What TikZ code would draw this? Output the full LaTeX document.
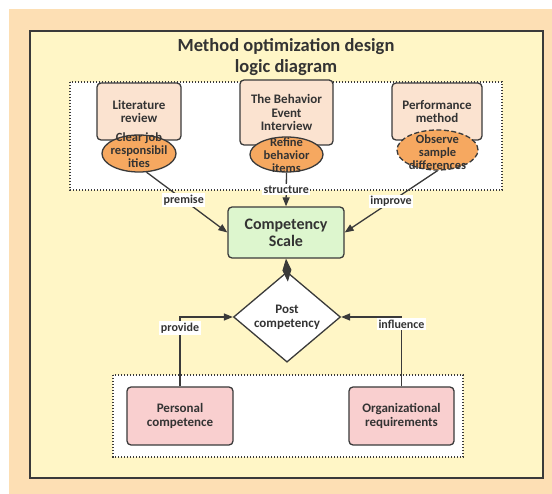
\documentclass[tikz,border=0pt]{standalone}
\usepackage{fontspec}
\setmainfont{Carlito}
\usetikzlibrary{shapes.geometric,arrows.meta}

\definecolor{pagebg}{HTML}{FDDFB4}
\definecolor{panelbg}{HTML}{FFF6C6}
\definecolor{edgecol}{HTML}{3A3A3A}
\definecolor{ink}{HTML}{333333}
\definecolor{methodfill}{HTML}{FBE3D0}
\definecolor{ovalfill}{HTML}{F6A860}
\definecolor{scalefill}{HTML}{DDF6CE}
\definecolor{basefill}{HTML}{F9CFCF}

% text of fixed-size ovals: set without enlarging the oval
\newcommand\ovtext[2]{\raisebox{#1}[0pt][0pt]{\makebox[0pt]{\begin{tabular}{@{}c@{}}#2\end{tabular}}}}

\begin{document}
\begin{tikzpicture}[x=1pt,y=-1pt,
  frame/.style={draw=edgecol,line width=1.4pt},
  group/.style={draw=edgecol,line width=1.3pt,dash pattern=on 1.4pt off 1.6pt,fill=white},
  methodbox/.style={draw=edgecol,fill=methodfill,line width=1.3pt,rounded corners=4pt,
    align=center,text=ink,font=\fontsize{13}{13.5}\selectfont\bfseries,inner sep=2pt},
  oval/.style={ellipse,draw=edgecol,fill=ovalfill,line width=1.3pt,inner sep=0pt,
    text=ink,font=\fontsize{12.5}{12.5}\selectfont\bfseries},
  scalebox/.style={draw=edgecol,fill=scalefill,line width=1.3pt,rounded corners=4pt,
    align=center,text=ink,font=\fontsize{16}{17}\selectfont\bfseries},
  postnode/.style={diamond,draw=edgecol,fill=white,line width=1.3pt,inner sep=0pt,
    align=center,text=ink,font=\fontsize{13}{14}\selectfont\bfseries},
  basebox/.style={draw=edgecol,fill=basefill,line width=1.3pt,rounded corners=4pt,
    align=center,text=ink,font=\fontsize{13}{14}\selectfont\bfseries},
  conn/.style={draw=edgecol,line width=1.3pt,-{Triangle[length=9pt,width=7pt]}},
  lbl/.style={fill=white,inner sep=1.5pt,text=ink,font=\fontsize{12}{13}\selectfont\bfseries}]

\useasboundingbox (0,0) rectangle (552,494);

% background and panel
\fill[pagebg] (9,9) rectangle (552,494);
\draw[frame,fill=panelbg] (30,31) rectangle (543,478);

\node[text=ink,align=center,font=\fontsize{18.5}{21}\selectfont\bfseries] (title) at (286,57)
  {Method optimization design\\logic diagram};

% dotted groups
\draw[group] (70,82) rectangle (502,190);
\draw[group] (113,375) rectangle (463,457);

% method boxes
\node[methodbox,minimum width=84pt,minimum height=57pt] (lit) at (139,111.5) {Literature\\review};
\node[methodbox,minimum width=93pt,minimum height=65pt] (bei) at (286.5,112.5) {The Behavior\\Event\\Interview};
\node[methodbox,minimum width=90pt,minimum height=57pt] (perf) at (437,111.5) {Performance\\method};

% ovals
\node[oval,minimum width=74pt,minimum height=37pt] (clear) at (139,153.5)
  {\ovtext{-1.5pt}{Clear job\\responsibil\\ities}};
\node[oval,minimum width=73pt,minimum height=35pt] (refine) at (286.5,154.5)
  {\ovtext{-5.5pt}{Refine\\behavior\\items}};
\node[oval,dashed,dash pattern=on 5pt off 2.5pt,minimum width=81pt,minimum height=40pt] (observe) at (437.5,150)
  {\ovtext{-7pt}{Observe\\sample\\differences}};

% central nodes
\node[scalebox,minimum width=116pt,minimum height=51pt] (scale) at (286,232.5) {Competency\\Scale};
\node[postnode,minimum width=107pt,minimum height=73pt] (post) at (287,317) {Post\\competency};

% base boxes
\node[basebox,minimum width=106pt,minimum height=58pt] (pers) at (180,416) {Personal\\competence};
\node[basebox,minimum width=105pt,minimum height=58pt] (org) at (401.5,416) {Organizational\\requirements};

% connectors
\draw[conn] (clear.-68) -- node[lbl,pos=0.46] (lpremise) {premise} (scale.west);
\draw[conn] (refine.south) -- node[lbl,pos=0.5] (lstructure) {structure} (scale.north);
\draw[conn] (observe.south) -- node[lbl,pos=0.5] (limprove) {improve} (scale.east);
\draw[draw=edgecol,line width=1pt,-{Diamond[length=23pt 0,width=9pt 0]}] (post.north) -- (scale.south);
\draw[conn] (pers.north) |- node[lbl,pos=0.42] (lprovide) {provide} (post.west);
\draw[conn] (org.north) |- node[lbl,pos=0.45] (linfluence) {influence} (post.east);

\end{tikzpicture}
\end{document}
